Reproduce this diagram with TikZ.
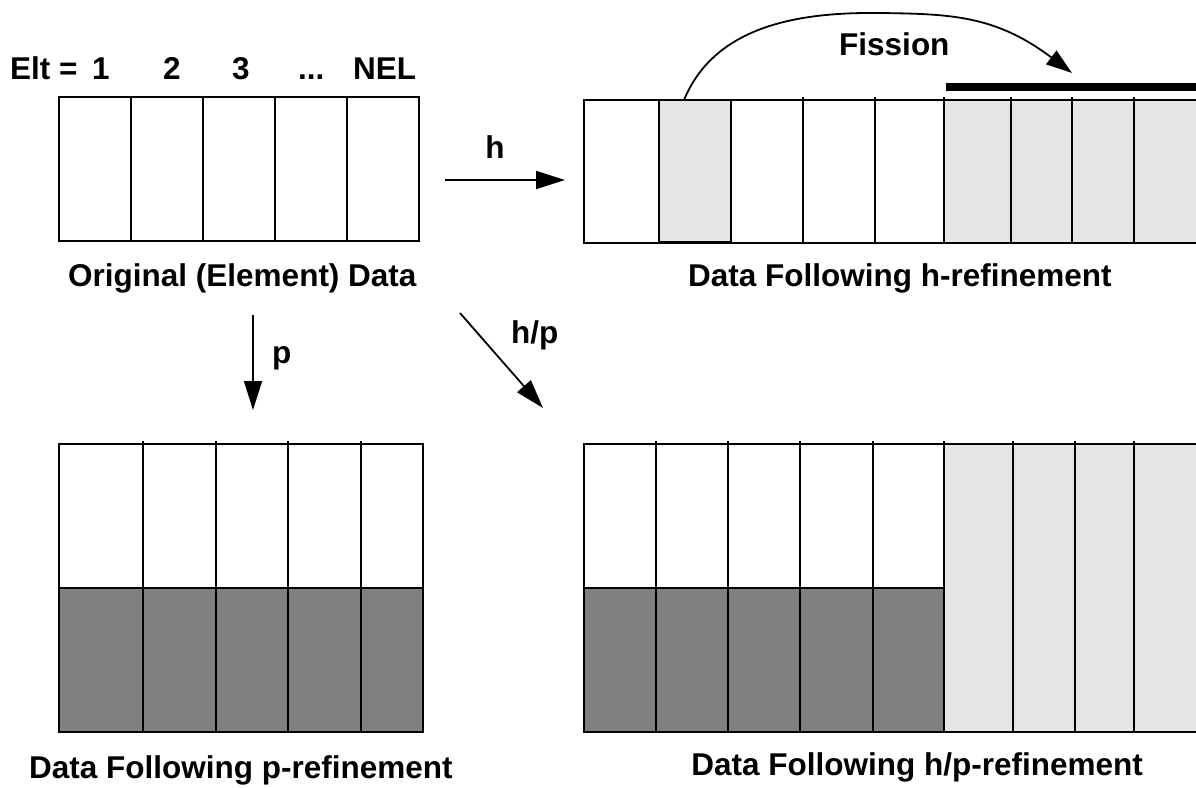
\documentclass[tikz,border=0pt]{standalone}
\usepackage{fontspec}
\setmainfont{Liberation Sans}
\usetikzlibrary{arrows.meta}
\definecolor{lightg}{HTML}{E5E5E5}
\definecolor{darkg}{HTML}{808080}
\newcommand{\labfont}{\fontsize{31.5}{36}\selectfont\bfseries}
\begin{document}
\begin{tikzpicture}[x=1pt,y=-1pt,
  box/.style={draw=black,line width=1.4pt},
  arr/.style={line width=1.8pt,-{Triangle[length=29pt,width=18pt]}},
  lab/.style={font=\labfont,inner sep=0pt,anchor=base west}]
\useasboundingbox (0,0) rectangle (1196,787);

% ---- original data
\draw[box] (59,97) rectangle (419,241);
\foreach \x in {131,203,275,347} \draw[box] (\x,97) -- (\x,241);
\node[lab] (elt) at (10,79) {Elt =};
\node[lab] (e1) at (92,79) {1};
\node[lab] (e2) at (163,79) {2};
\node[lab] (e3) at (232,79) {3};
\node[lab] (edots) at (298,79) {...};
\node[lab] (enel) at (353,79) {NEL};
\node[lab] (orig) at (68,286) {Original (Element) Data};

% ---- h-refinement
\fill[lightg] (944,100) rectangle (1197,243);
\draw[box] (1198,100) -- (584,100) -- (584,243) -- (1198,243);
\draw[box,fill=lightg] (659,100) rectangle (731,242);
\foreach \x in {803,875,944,1011,1072,1134} \draw[box] (\x,97) -- (\x,243);
\fill (946,83) rectangle (1197,91);
\node[lab] (fission) at (839,55) {Fission};
\node[lab] (hlab) at (688,286) {Data Following h-refinement};
\coordinate (fs) at (684,100);
\coordinate (fe) at (1072,73);
\draw[line width=1.8pt,-{Triangle[length=26pt,width=17pt]}]
  (fs) .. controls (715,25) and (800,12) .. (880,13)
       .. controls (950,14) and (995,15) .. (fe);

% ---- p-refinement
\fill[darkg] (59,588) rectangle (423,732);
\draw[box] (59,444) rectangle (423,732);
\draw[box] (59,588) -- (423,588);
\foreach \x in {143,216,288,361} \draw[box] (\x,441) -- (\x,732);
\node[lab] (plab) at (29,778) {Data Following p-refinement};

% ---- h/p-refinement
\fill[darkg] (584,588) rectangle (944,732);
\fill[lightg] (944,444) rectangle (1197,732);
\draw[box] (1198,444) -- (584,444) -- (584,732) -- (1198,732);
\draw[box] (584,588) -- (944,588);
\foreach \x in {656,728,800,873,944,1013,1075,1134} \draw[box] (\x,441) -- (\x,732);
\node[lab,anchor=base east] (hplab) at (1143,775) {Data Following h/p-refinement};

% ---- arrows
\coordinate (hs) at (445,180);
\coordinate (he) at (565,180);
\draw[arr] (hs) -- (he);
\node[lab,anchor=base] (h) at (495,158) {h};
\coordinate (ps) at (253,315);
\coordinate (pe) at (253,410);
\draw[arr] (ps) -- (pe);
\node[lab] (p) at (272,363) {p};
\coordinate (hps) at (460,313);
\coordinate (hpe) at (543,408);
\draw[arr] (hps) -- (hpe);
\node[lab] (hp) at (511,343) {h/p};
\end{tikzpicture}
\end{document}
